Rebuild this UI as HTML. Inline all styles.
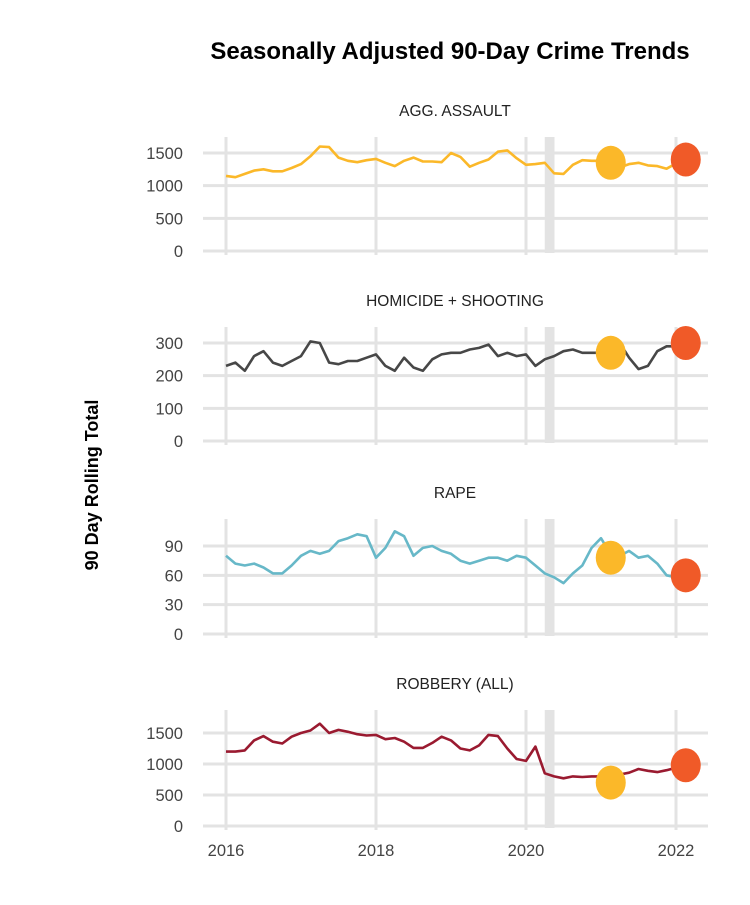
<!DOCTYPE html>
<html><head><meta charset="utf-8"><style>
body{margin:0;background:#fff;}
svg text{font-family:"Liberation Sans",sans-serif;}
</style></head><body>
<svg id="chart" width="750" height="900" xmlns="http://www.w3.org/2000/svg">
<rect width="750" height="900" fill="#fff"/>
<text x="450" y="59" text-anchor="middle" font-size="24" font-weight="bold" fill="#000">Seasonally Adjusted 90-Day Crime Trends</text>
<text transform="translate(98,485) rotate(-90)" text-anchor="middle" font-size="18" font-weight="bold" fill="#000">90 Day Rolling Total</text>
</svg>
<script>
const panelTitles=["AGG. ASSAULT","HOMICIDE + SHOOTING","RAPE","ROBBERY (ALL)"];
const assault=[1150,1130,1180,1230,1250,1220,1220,1270,1330,1450,1600,1590,1430,1380,1360,1390,1410,1350,1300,1380,1430,1370,1370,1360,1500,1440,1290,1350,1400,1520,1540,1420,1320,1330,1350,1190,1180,1320,1390,1380,1380,1340,1280,1330,1350,1310,1300,1260,1340];
const homicide=[230,240,215,260,275,240,230,245,260,305,300,240,235,245,245,255,265,230,215,255,225,215,250,265,270,270,280,285,295,260,270,260,265,230,250,260,275,280,270,270,270,275,300,255,220,230,275,290,290];
const rape=[80,72,70,72,68,62,62,70,80,85,82,85,95,98,102,100,78,88,105,100,80,88,90,85,82,75,72,75,78,78,75,80,78,70,62,58,52,62,70,88,98,82,80,85,78,80,72,60,58];
const robbery=[1200,1200,1220,1380,1450,1360,1330,1440,1500,1540,1650,1500,1550,1520,1480,1460,1470,1400,1420,1360,1260,1260,1340,1440,1380,1250,1220,1300,1470,1450,1250,1080,1050,1280,850,800,770,800,790,800,800,820,830,860,920,890,870,900,940];
const series=[assault,homicide,rape,robbery];
const colors=["#fbb829","#474747","#67b8c8","#9a1a30"];
const yTicks=[[0,500,1000,1500],[0,100,200,300],[0,30,60,90],[0,500,1000,1500]];
const yMax=[1745,349,117.6,1871];
const prevYear=[1350,270,78,700];
const current=[1400,300,60,980];
const xYears=[2016,2018,2020,2022];
const prevDate=2021.13, curDate=2022.13;
const bandStart=2020.25, bandEnd=2020.38;
const startYear=2016, endYear=2022;

const svg=document.getElementById('chart');
const NS="http://www.w3.org/2000/svg";
const panelBottom=[251,441,634,826];
const panelH=[114,114,115,116];
function xs(y){return 226+(y-2016)*75;}
function mk(tag,attrs){const e=document.createElementNS(NS,tag);for(const k in attrs)e.setAttribute(k,attrs[k]);svg.appendChild(e);return e;}

for(let p=0;p<4;p++){
  const b=panelBottom[p], top=b-panelH[p];
  const ys=v=>b-(v/yMax[p])*(panelH[p]);
  const t=mk('text',{x:455,y:top-21,'text-anchor':'middle','font-size':15.5,fill:'#222'});
  t.textContent=panelTitles[p];
  
  
  for(const v of yTicks[p]){
    const g=mk('line',{x1:203,x2:708,y1:ys(v),y2:ys(v),stroke:'#e3e3e3','stroke-width':3});
    
    
    const l=mk('text',{x:183,y:ys(v)+6,'text-anchor':'end','font-size':16.5,fill:'#444'});
    l.textContent=v;
    
    
  }
  for(const yr of xYears){
    const g=mk('line',{x1:xs(yr),x2:xs(yr),y1:top,y2:b+4,stroke:'#e3e3e3','stroke-width':3});
    
    
  }
  const band=mk('rect',{x:xs(bandStart),y:top,width:xs(bandEnd)-xs(bandStart),height:b-top+2,fill:'#e3e3e3'});
  
  
  const d=series[p], n=d.length;
  let path='';
  d.forEach((v,i)=>{const x=xs(startYear+i*(endYear-startYear)/(n-1));path+=(i?'L':'M')+x.toFixed(1)+','+ys(v).toFixed(1);});
  const ln=mk('path',{d:path,fill:'none',stroke:colors[p],'stroke-width':2.6,'stroke-linejoin':'round'});
  
  
  const c1=mk('ellipse',{cx:xs(prevDate),cy:ys(prevYear[p]),rx:15,ry:17,fill:'#fbb829'});
  
  
  const c2=mk('ellipse',{cx:xs(curDate),cy:ys(current[p]),rx:15,ry:17,fill:'#f05a28'});
  
  
}
for(const yr of xYears){
  const t=mk('text',{x:xs(yr),y:856,'text-anchor':'middle','font-size':16.5,fill:'#444'});
  t.textContent=yr;
  
  
}
</script>
</body></html>
